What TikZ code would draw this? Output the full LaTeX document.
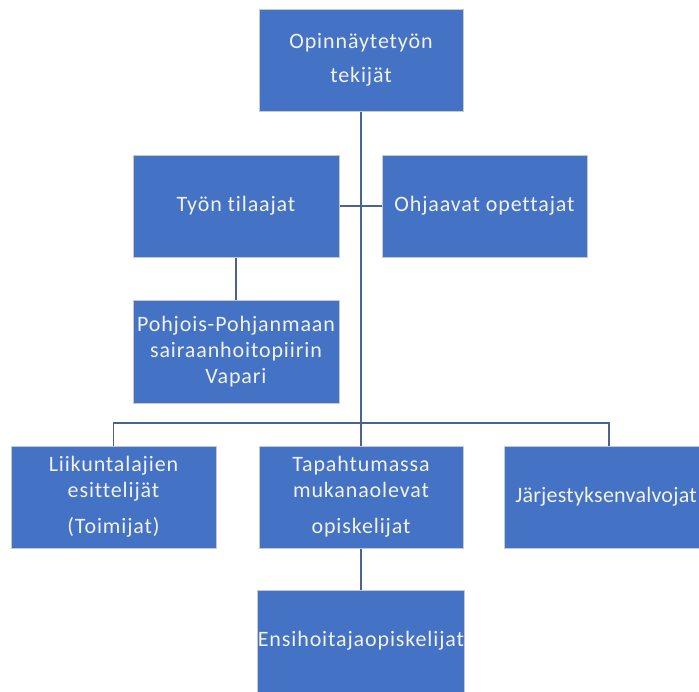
\documentclass[tikz,border=0pt]{standalone}
\usepackage{fontspec}
\newfontfamily\boxfont[LetterSpace=4,Ligatures={NoCommon}]{Carlito}
\newfontfamily\tightboxfont[LetterSpace=1,Ligatures={NoCommon}]{Carlito}
\definecolor{boxblue}{HTML}{4472C4}
\definecolor{boxedge}{HTML}{C9C9C9}
\definecolor{linecol}{HTML}{4A6394}
\definecolor{txtcol}{HTML}{F2F2F2}
\begin{document}
\begin{tikzpicture}[x=1pt,y=-1pt,
  orgbox/.style={rectangle, fill=boxblue, draw=boxedge, line width=1pt,
    minimum width=204pt, minimum height=102pt, inner sep=0pt,
    align=center, text=txtcol, font=\boxfont\fontsize{22}{26}\selectfont},
  conn/.style={draw=linecol, line width=1.8pt}]
\useasboundingbox (0,0) rectangle (699,691);
\fill[white] (0,0) rectangle (699,691);
\node[orgbox] (top) at (361,60) {Opinnäytetyön\\[8pt]tekijät};
\node[orgbox, minimum width=206pt] (tyon) at (236,206) {Työn tilaajat};
\node[orgbox, minimum width=205pt] (ohj) at (484.5,206) {Ohjaavat opettajat};
\node[orgbox, minimum width=206pt, minimum height=103pt] (vap) at (236,351.5) {Pohjois-Pohjanmaan\\sairaanhoitopiirin\\Vapari};
\node[orgbox, minimum width=205pt] (liik) at (113.5,497) {Liikuntalajien\\esittelijät\\[10pt](Toimijat)};
\node[orgbox] (tap) at (361,497) {Tapahtumassa\\mukanaolevat\\[10pt]opiskelijat};
\node[orgbox, minimum width=210pt, font=\tightboxfont\fontsize{22}{26}\selectfont] (jarj) at (609,497) {\hspace*{-6pt}Järjestyksenvalvojat};
\node[orgbox] (ensi) at (361,641) {Ensihoitajaopiskelijat};
\coordinate (bus) at (361,423);
\draw[conn] (top.south) -- (bus);
\draw[conn] (liik.north) |- (bus) -| (jarj.north);
\draw[conn] (bus) -- (tap.north);
\draw[conn] (tyon.east) -- (ohj.west);
\draw[conn] (tyon.south) -- (vap.north);
\draw[conn] (tap.south) -- (ensi.north);
\end{tikzpicture}
\end{document}
